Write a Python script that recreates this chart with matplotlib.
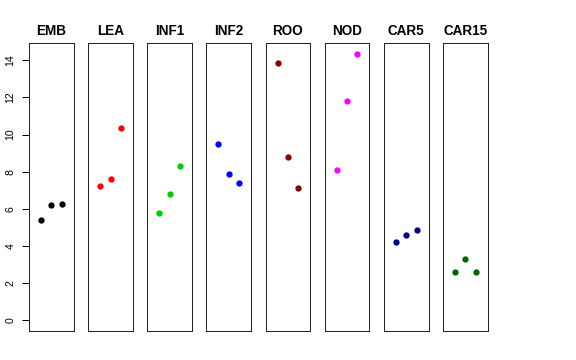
import matplotlib
matplotlib.use("Agg")
import matplotlib.pyplot as plt

plt.rcParams['font.family'] = ['Liberation Sans', 'DejaVu Sans']

tissues = ["EMB", "LEA", "INF1", "INF2", "ROO", "NOD", "CAR5", "CAR15"]
values = [
    [5.41, 6.20, 6.27],
    [7.25, 7.61, 10.35],
    [5.77, 6.80, 8.32],
    [9.51, 7.86, 7.41],
    [13.86, 8.81, 7.13],
    [8.11, 11.80, 14.34],
    [4.21, 4.57, 4.87],
    [2.58, 3.28, 2.58],
]
colors = ["#000000", "#FF0000", "#00CD00", "#0000FF", "#8B0000", "#FF00FF", "#00008B", "#006400"]
yticks = [0, 2, 4, 6, 8, 10, 12, 14]
xpos = [1, 2, 3]

W, H = 576, 360
fig = plt.figure(figsize=(8, 5), dpi=72)

ymax = max(max(v) for v in values)
ylim = (0 - 0.04 * ymax, ymax + 0.04 * ymax)

left0, step, width = 29.0, 59.15, 44.7
top, bottom = 43.3, 331.0
for i, (name, vals, col) in enumerate(zip(tissues, values, colors)):
    l = left0 + i * step
    ax = fig.add_axes([l / W, 1 - bottom / H, width / W, (bottom - top) / H])
    ax.plot(xpos, vals, 'o', color=col, markersize=6.3, markeredgewidth=0)
    ax.set_xlim(-0.16, 4.16)
    ax.set_ylim(*ylim)
    ax.set_xticks([])
    for s in ax.spines.values():
        s.set_linewidth(1.0)
        s.set_color('#222222')
    ax.set_title(name, fontsize=13.5, fontweight='bold', pad=8.5)
    if i == 0:
        ax.set_yticks(yticks)
        ax.set_yticklabels([str(t) for t in yticks], rotation=90, va='center', fontsize=10.5)
        ax.tick_params(axis='y', length=7, width=1, pad=6.5, direction='out')
    else:
        ax.set_yticks([])

fig.savefig("out.png", dpi=72)
